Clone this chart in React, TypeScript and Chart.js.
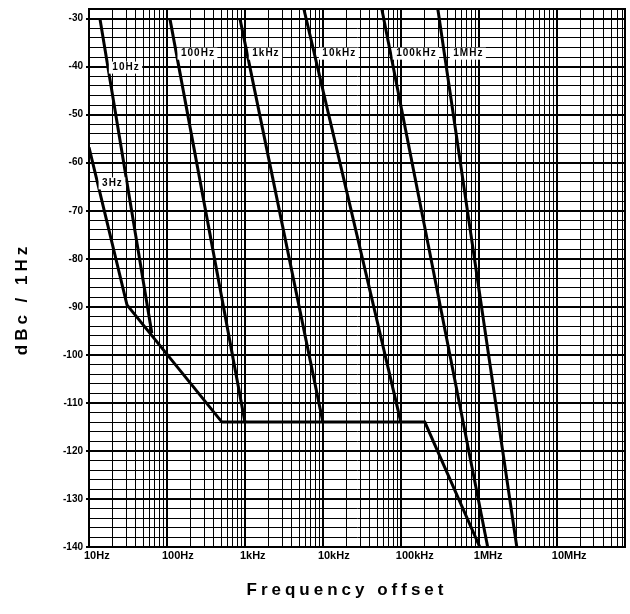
import React, { useEffect, useRef } from "react";
import { Chart, registerables } from "chart.js";

Chart.register(...registerables);

// ---- axis data ----
const xMin = 10;
const xMax = 7.5e7;
const yMin = -140;
const yMax = -28;
const xTickValues = [10, 100, 1e3, 1e4, 1e5, 1e6, 1e7];
const xTickLabels = ["10Hz", "100Hz", "1kHz", "10kHz", "100kHz", "1MHz", "10MHz"];
const yTickValues = [-30, -40, -50, -60, -70, -80, -90, -100, -110, -120, -130, -140];
const yTickLabels = ["-30", "-40", "-50", "-60", "-70", "-80", "-90", "-100", "-110", "-120", "-130", "-140"];

// ---- curves (frequency offset in Hz, level in dBc/1Hz) ----
const curve3HzFreq = [10, 30.7, 507, 203000, 1030000];
const curve3HzDb = [-56.8, -89.6, -114, -114, -140];
const curve10HzFreq = [13.8, 64];
const curve10HzDb = [-30, -95.5];
const curve100HzFreq = [109, 1000];
const curve100HzDb = [-30, -114];
const curve1kHzFreq = [863, 10000];
const curve1kHzDb = [-30, -114];
const curve10kHzFreq = [5700, 100000];
const curve10kHzDb = [-28, -114];
const curve100kHzFreq = [57000, 1300000];
const curve100kHzDb = [-28, -140];
const curve1MHzFreq = [298000, 3070000];
const curve1MHzDb = [-28, -140];

// ---- curve labels ----
const curveLabels = ["3Hz", "10Hz", "100Hz", "1kHz", "10kHz", "100kHz", "1MHz"];
const curveLabelFreq = [19.7, 29.4, 246, 1833, 16000, 156000, 723000];
const curveLabelDb = [-64.3, -40.2, -37.3, -37.3, -37.3, -37.3, -37.3];

const xTitle = "Frequency offset";
const yTitle = "dBc / 1Hz";

const FONT = "'Liberation Sans', Arial, Helvetica, sans-serif";

const toPoints = (f: number[], d: number[]) => f.map((v, i) => ({ x: v, y: d[i] }));

const isDecade = (v: number) => {
  const l = Math.log10(v);
  return Math.abs(l - Math.round(l)) < 1e-9;
};

export default function App() {
  const ref = useRef<HTMLCanvasElement | null>(null);

  useEffect(() => {
    if (!ref.current) return;
    const curves = [
      [curve3HzFreq, curve3HzDb],
      [curve10HzFreq, curve10HzDb],
      [curve100HzFreq, curve100HzDb],
      [curve1kHzFreq, curve1kHzDb],
      [curve10kHzFreq, curve10kHzDb],
      [curve100kHzFreq, curve100kHzDb],
      [curve1MHzFreq, curve1MHzDb],
    ];

    const framePlugin = {
      id: "frame",
      beforeDatasetsDraw(chart: any) {
        const { ctx, chartArea: a } = chart;
        ctx.save();
        ctx.strokeStyle = "#000";
        ctx.lineWidth = 2;
        ctx.strokeRect(a.left, a.top, a.right - a.left, a.bottom - a.top);
        ctx.restore();
      },
    };

    const labelPlugin = {
      id: "curveLabels",
      afterDatasetsDraw(chart: any) {
        const { ctx } = chart;
        const xs = chart.scales.x;
        const ys = chart.scales.y;
        ctx.save();
        ctx.font = `bold 10px ${FONT}`;
        (ctx as any).letterSpacing = "1px";
        ctx.textAlign = "center";
        ctx.textBaseline = "middle";
        curveLabels.forEach((t, i) => {
          const px = xs.getPixelForValue(curveLabelFreq[i]);
          const py = ys.getPixelForValue(curveLabelDb[i]);
          const w = ctx.measureText(t).width;
          ctx.fillStyle = "#fff";
          ctx.fillRect(px - w / 2 - 3, py - 6, w + 6, 12);
          ctx.fillStyle = "#000";
          ctx.fillText(t, px + 0.5, py);
        });
        ctx.restore();
      },
    };

    const titlePlugin = {
      id: "axisTitles",
      afterDraw(chart: any) {
        const { ctx, chartArea: a } = chart;
        ctx.save();
        ctx.fillStyle = "#000";
        ctx.font = `bold 17px ${FONT}`;
        (ctx as any).letterSpacing = "4px";
        ctx.textAlign = "center";
        ctx.textBaseline = "middle";
        ctx.fillText(xTitle, (a.left + a.right) / 2 - 10, 590);
        ctx.translate(22, (a.top + a.bottom) / 2 + 23);
        ctx.rotate(-Math.PI / 2);
        ctx.fillText(yTitle, 2, 0);
        ctx.restore();
      },
    };

    const chart = new Chart(ref.current, {
      type: "scatter",
      data: {
        datasets: curves.map(([f, d]) => ({
          data: toPoints(f, d),
          showLine: true,
          borderColor: "#000",
          borderWidth: 3,
          pointRadius: 0,
          pointHoverRadius: 0,
          fill: false,
        })),
      },
      options: {
        animation: false,
        responsive: false,
        events: [],
        layout: { padding: { top: 9, right: 5, left: 0, bottom: 0 } },
        plugins: {
          legend: { display: false },
          tooltip: { enabled: false },
          title: { display: false },
        },
        scales: {
          x: {
            type: "logarithmic",
            min: xMin,
            max: xMax,
            afterBuildTicks(scale: any) {
              const t: any[] = [];
              for (let e = 1; e <= 7; e++) {
                for (let m = 1; m <= 9; m++) {
                  const v = m * Math.pow(10, e);
                  if (v >= xMin && v <= xMax) t.push({ value: v });
                }
              }
              scale.ticks = t;
            },
            afterFit(scale: any) {
              scale.height = 67;
            },
            ticks: {
              autoSkip: false,
              maxRotation: 0,
              minRotation: 0,
              align: "start",
              labelOffset: -5,
              padding: 2,
              color: "#000",
              font: { family: FONT, size: 11, weight: "bold" },
              callback: (value: any) => {
                const idx = xTickValues.findIndex((v) => Math.abs(v - Number(value)) < 1e-6 * v);
                return idx >= 0 ? xTickLabels[idx] : "";
              },
            },
            grid: {
              drawTicks: false,
              color: "#000",
              lineWidth: (c: any) => (c.tick && isDecade(c.tick.value) ? 2 : 1),
            },
            border: { display: true, color: "#000", width: 2 },
          },
          y: {
            type: "linear",
            min: yMin,
            max: yMax,
            afterBuildTicks(scale: any) {
              const t: any[] = [];
              for (let v = yMin; v <= yMax; v += 2) t.push({ value: v });
              scale.ticks = t;
            },
            afterFit(scale: any) {
              scale.width = 89;
            },
            ticks: {
              autoSkip: false,
              padding: 3,
              color: "#000",
              font: { family: FONT, size: 10, weight: "bold" },
              callback: (value: any) => {
                const idx = yTickValues.indexOf(Number(value));
                return idx >= 0 ? yTickLabels[idx] : "";
              },
            },
            grid: {
              tickLength: 3,
              color: "#000",
              tickColor: (c: any) => (c.tick && c.tick.value % 10 === 0 ? "#000" : "rgba(0,0,0,0)"),
              lineWidth: (c: any) => (c.tick && c.tick.value % 10 === 0 ? 2 : 1),
            },
            border: { display: true, color: "#000", width: 2 },
          },
        },
      },
      plugins: [framePlugin, labelPlugin, titlePlugin],
    } as any);

    return () => chart.destroy();
  }, []);

  return (
    <div style={{ position: "absolute", left: 0, top: 0, width: 630, height: 614, background: "#fff" }}>
      <canvas ref={ref} width={630} height={614} style={{ display: "block" }} />
    </div>
  );
}
